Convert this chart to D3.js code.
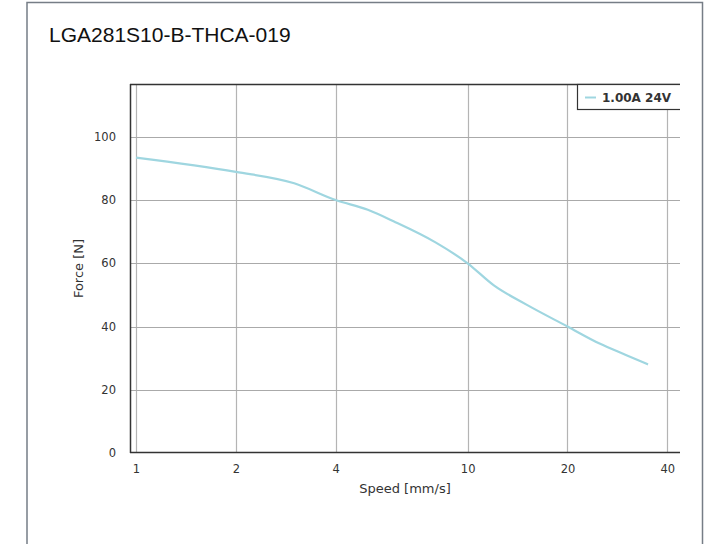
<!DOCTYPE html>
<html><head><meta charset="utf-8">
<script src="https://cdn.jsdelivr.net/npm/d3@7"></script>
<style>body{margin:0;background:#fff}svg{display:block}</style>
</head><body>
<svg id="c" width="721" height="544"></svg>
<script>
const title = "LGA281S10-B-THCA-019";
const seriesName = "1.00A 24V";
const speeds = [1, 2, 3, 4, 5, 6, 8, 10, 12, 15, 20, 25, 30, 35];
const forces = [93.4, 88.9, 85.3, 80, 76.9, 73.2, 66.6, 60, 53, 47, 40, 34.6, 31, 28];
const xTicks = [1, 2, 4, 10, 20, 40];
const yTicks = [0, 20, 40, 60, 80, 100];
const xLabel = "Speed [mm/s]";
const yLabel = "Force [N]";

const svg = d3.select("#c");
const L = 130, R = 680, T = 84, B = 453;
const x = d3.scaleLog().domain([0.959, 43.7]).range([L, R]);
const y = d3.scaleLinear().domain([0, 116.7]).range([B, T]);

// outer frame
svg.append("rect").attr("x", 27).attr("y", 2.5).attr("width", 675.5).attr("height", 600)
  .attr("fill", "none").attr("stroke", "#767d86").attr("stroke-width", 1.5);

svg.append("text").attr("x", 49).attr("y", 41.5).text(title)
  .attr("font-family", "Liberation Sans, Arial, sans-serif").attr("font-size", 21).attr("fill", "#111");

// grid
const g = svg.append("g");
g.selectAll(".gx").data(xTicks).join("line")
  .attr("x1", d => Math.round(x(d)) + 0.5).attr("x2", d => Math.round(x(d)) + 0.5)
  .attr("y1", T).attr("y2", B).attr("stroke", "#b4b4b4").attr("stroke-width", 1.2);
g.selectAll(".gy").data(yTicks.filter(d => d > 0)).join("line")
  .attr("x1", L).attr("x2", R)
  .attr("y1", d => Math.round(y(d)) + 0.5).attr("y2", d => Math.round(y(d)) + 0.5)
  .attr("stroke", "#aaaaaa").attr("stroke-width", 1.2);

// axes
const xAxis = d3.axisBottom(x).tickValues(xTicks).tickFormat(d3.format("d")).tickSize(0).tickPadding(12);
const yAxis = d3.axisLeft(y).tickValues(yTicks).tickSize(0).tickPadding(14);
const gx = svg.append("g").attr("transform", `translate(0,${B})`).call(xAxis);
const gy = svg.append("g").attr("transform", `translate(${L},0)`).call(yAxis);
[gx, gy].forEach(a => {
  a.select(".domain").remove();
  a.selectAll("text").attr("font-family", "DejaVu Sans, sans-serif").attr("font-size", 11.5).attr("fill", "#333");
});
svg.append("line").attr("x1", L).attr("x2", R).attr("y1", B - 0.5).attr("y2", B - 0.5).attr("stroke", "#333").attr("stroke-width", 1.5);
svg.append("line").attr("x1", L + 0.5).attr("x2", L + 0.5).attr("y1", T).attr("y2", B).attr("stroke", "#333").attr("stroke-width", 1.5);
svg.append("line").attr("x1", L).attr("x2", R).attr("y1", T + 0.5).attr("y2", T + 0.5).attr("stroke", "#333").attr("stroke-width", 1.5);

svg.append("text").attr("x", (L + R) / 2).attr("y", 493).attr("text-anchor", "middle").text(xLabel)
  .attr("font-family", "DejaVu Sans, sans-serif").attr("font-size", 13).attr("fill", "#333");
svg.append("text").attr("transform", `translate(83,${(T + B) / 2}) rotate(-90)`).attr("text-anchor", "middle").text(yLabel)
  .attr("font-family", "DejaVu Sans, sans-serif").attr("font-size", 13).attr("fill", "#333");

// line
const data = speeds.map((s, i) => ({ s, f: forces[i] }));
svg.append("path").datum(data)
  .attr("d", d3.line().x(d => x(d.s)).y(d => y(d.f)).curve(d3.curveMonotoneX))
  .attr("fill", "none").attr("stroke", "#9fd6e0").attr("stroke-width", 2.2);

// legend
const lg = svg.append("g");
const clip = svg.append("clipPath").attr("id", "pc");
clip.append("rect").attr("x", L).attr("y", 0).attr("width", R - L).attr("height", 544);
lg.attr("clip-path", "url(#pc)");
lg.append("rect").attr("x", 577.5).attr("y", T + 0.5).attr("width", 120).attr("height", 25)
  .attr("fill", "#fff").attr("stroke", "#333").attr("stroke-width", 1.2);
lg.append("line").attr("x1", 585).attr("x2", 596).attr("y1", 97.5).attr("y2", 97.5)
  .attr("stroke", "#9fd6e0").attr("stroke-width", 2);
lg.append("text").attr("x", 602).attr("y", 102).text(seriesName)
  .attr("font-family", "DejaVu Sans, sans-serif").attr("font-weight", "bold").attr("font-size", 12).attr("fill", "#333");
</script>
</body></html>
